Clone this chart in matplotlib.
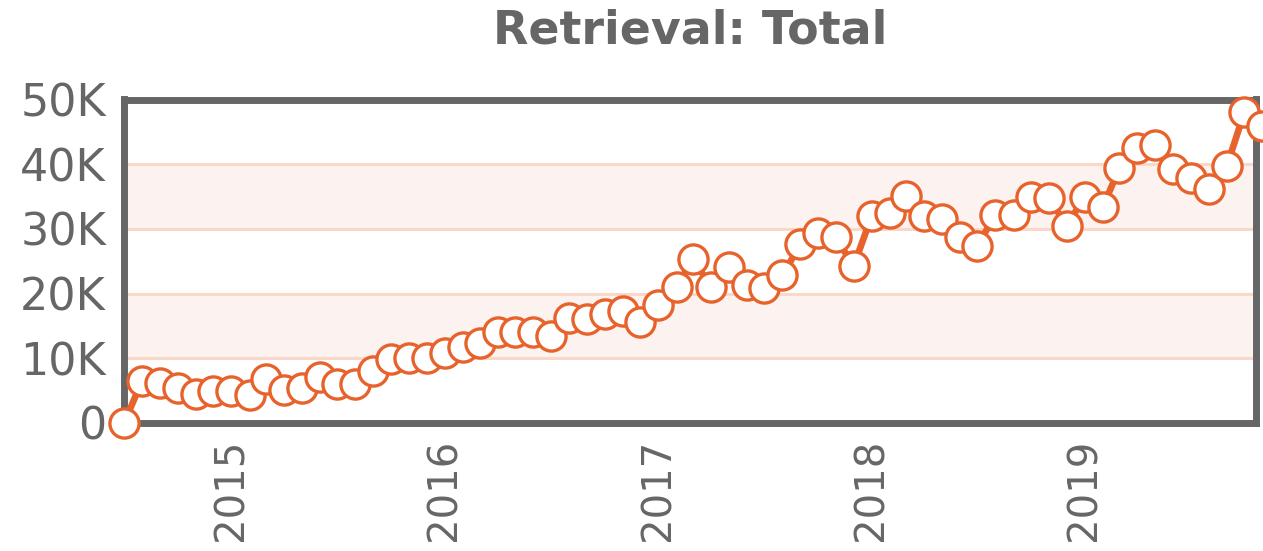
import pandas as pd
import matplotlib
matplotlib.use("Agg")
import matplotlib.pyplot as plt

# monthly totals, starting July 2014
start_month = "2014-07-01"
totals = [0, 6500, 6200, 5400, 4500, 5000, 5000, 4400, 6800, 5100, 5400, 7100,
          6000, 6000, 8000, 9900, 10000, 10000, 10800, 11700, 12400, 14000,
          14000, 14000, 13400, 16200, 16000, 16800, 17300, 15600, 18200, 21000,
          25400, 21000, 24100, 21300, 20800, 22800, 27600, 29300, 28700, 24200,
          32000, 32400, 35100, 32000, 31600, 28800, 27400, 32200, 32200, 35000,
          34700, 30500, 35000, 33400, 39400, 42500, 43000, 39300, 37900, 36200,
          39700, 48000, 45900]
year_ticks = ["2015", "2016", "2017", "2018", "2019"]
y_ticks = [0, 10000, 20000, 30000, 40000, 50000]
y_labels = ["0", "10K", "20K", "30K", "40K", "50K"]

months = pd.date_range(start_month, periods=len(totals), freq="MS")

orange = "#e8622c"
gray = "#666666"

fig = plt.figure(figsize=(12.63, 5.51), dpi=100)
ax = fig.add_axes([124 / 1263, 1 - 423 / 551, (1256 - 124) / 1263, (423 - 99.5) / 551])

# shaded bands and grid lines
for lo in [10000, 30000]:
    ax.axhspan(lo, lo + 10000, color="#fcf2ef", zorder=0, lw=0)
for y in y_ticks[1:-1]:
    ax.axhline(y, color="#f9d8c9", lw=2.2, zorder=1)

ax.plot(months, totals, color=orange, lw=4.8, marker="o", markersize=21,
        markerfacecolor="white", markeredgecolor=orange, markeredgewidth=2.4,
        clip_on=False, zorder=5)

ax.set_ylim(0, 50000)
ax.set_xlim(pd.Timestamp(start_month), pd.Timestamp("2019-10-21"))
ax.set_yticks(y_ticks)
ax.set_yticklabels(y_labels)
ax.set_xticks([pd.Timestamp(y + "-01-01") for y in year_ticks])
ax.set_xticklabels(year_ticks, rotation=90)
ax.tick_params(axis="y", length=0, pad=13, labelsize=32, labelcolor=gray)
ax.tick_params(axis="x", length=0, pad=11, labelsize=29, labelcolor=gray)

for side in ax.spines.values():
    side.set_color(gray)
    side.set_linewidth(5)
    side.set_zorder(4)

ax.set_title("Retrieval: Total", fontsize=33, fontweight="bold", color=gray, pad=40)

plt.savefig("out.png", dpi=100)
